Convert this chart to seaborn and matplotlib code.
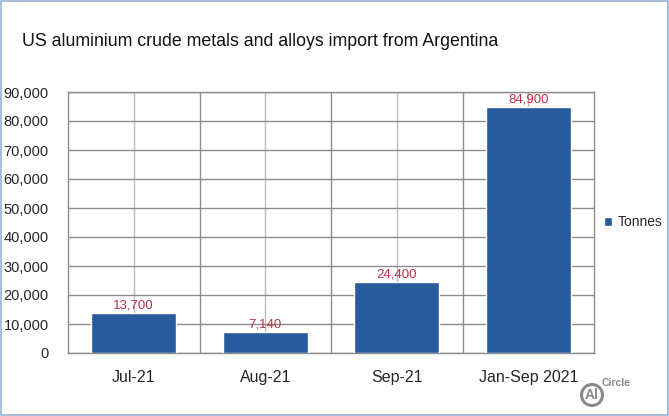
import matplotlib
matplotlib.use("Agg")
import matplotlib.pyplot as plt
import seaborn as sns
import pandas as pd
from matplotlib.patches import Rectangle, Circle
from matplotlib.ticker import FuncFormatter, FixedLocator

# data
periods = ["Jul-21", "Aug-21", "Sep-21", "Jan-Sep 2021"]
tonnes = [13700, 7140, 24400, 84900]
series_name = "Tonnes"

df = pd.DataFrame({"Period": periods, series_name: tonnes})

sns.set_style("white")
plt.rcParams['font.family'] = ['Liberation Sans', 'DejaVu Sans']

fig = plt.figure(figsize=(6.69, 4.16), dpi=100)
ax = fig.add_axes([68 / 669, 63 / 416, 526 / 669, 261 / 416])

bar_color = "#275b9b"
sns.barplot(data=df, x="Period", y=series_name, color=bar_color, width=0.65,
            saturation=1, ax=ax, zorder=3, label=series_name)

ax.set_xlim(-0.5, 3.5)
ax.set_ylim(0, 90000)
ax.set_yticks(range(0, 90001, 10000))
ax.yaxis.set_major_formatter(FuncFormatter(lambda v, p: f"{int(v):,}"))
ax.xaxis.set_minor_locator(FixedLocator([0.5, 1.5, 2.5]))

# grid lines
ax.grid(axis="y", which="major", color="#8c8c8c", linewidth=1, zorder=0)
ax.grid(axis="x", which="major", color="#bdbdbd", linewidth=1, zorder=0)
ax.grid(axis="x", which="minor", color="#8c8c8c", linewidth=1, zorder=0)
ax.set_axisbelow(True)

for s in ax.spines.values():
    s.set_color("#8c8c8c")
    s.set_linewidth(1)

ax.tick_params(axis="both", which="both", length=0)
ax.tick_params(axis="y", pad=14, labelsize=10.5)
ax.tick_params(axis="x", pad=12, labelsize=11.5)
ax.set_xlabel("")
ax.set_ylabel("")

# data labels
for i, v in enumerate(tonnes):
    ax.text(i, v + 600, f"{v:,}", ha="center", va="bottom",
            color="#c0304a", fontsize=9.5, zorder=4)

# legend
leg = ax.legend(loc="center left", bbox_to_anchor=(1.0, 0.5), frameon=False,
                fontsize=10, handlelength=0.6, handleheight=0.6,
                handletextpad=0.4, borderaxespad=0.3)

# title
fig.text(22 / 669, 1 - 42 / 416, "US aluminium crude metals and alloys import from Argentina",
         ha="left", va="center", fontsize=12.8, color="#111111")

# logo
px = fig.dpi_scale_trans
fig.add_artist(Circle((5.92, 0.21), 0.105, transform=px, fill=False,
                      edgecolor="#8a8a8a", linewidth=2.2))
fig.text(5.92 / 6.69, 0.21 / 4.16, "Al", ha="center", va="center", fontsize=10,
         fontweight="bold", color="#8a8a8a")
fig.text(6.16 / 6.69, 0.33 / 4.16, "Circle", ha="center", va="center", fontsize=7.5,
         color="#8a8a8a", fontweight="bold")

# figure border
fig.add_artist(Rectangle((0.001, 0.002), 0.997, 0.995, transform=fig.transFigure,
                         fill=False, edgecolor="#95b3d7", linewidth=1.2))

fig.savefig("out.png", dpi=100, facecolor="white")
